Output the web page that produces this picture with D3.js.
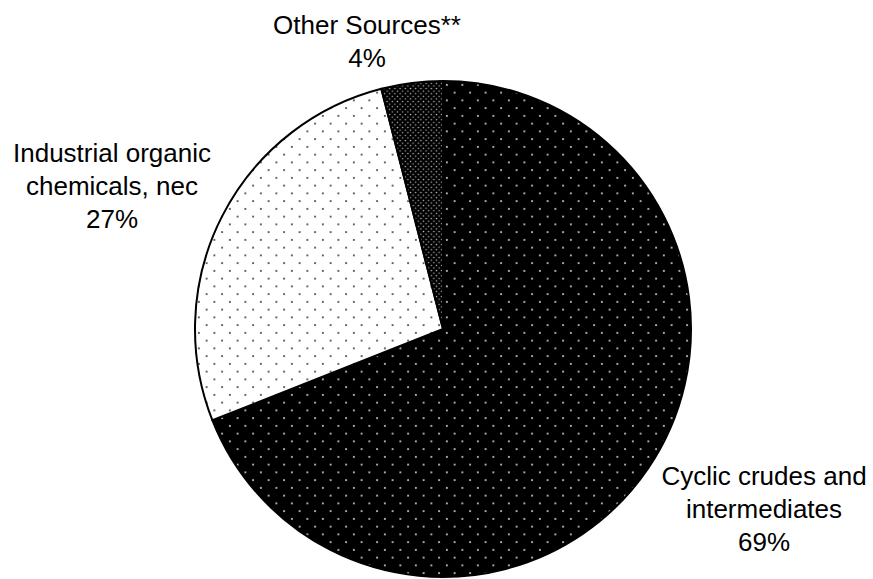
<!DOCTYPE html>
<html><head><meta charset="utf-8">
<script src="https://cdn.jsdelivr.net/npm/d3@7"></script>
<style>html,body{margin:0;padding:0;background:#fff;}svg{display:block;}</style>
</head><body>
<svg id="chart" width="873" height="579"></svg>
<script>
const categories = ["Cyclic crudes and intermediates", "Industrial organic chemicals, nec", "Other Sources**"];
const values = [69, 27, 4];
const labelLines = [["Cyclic crudes and", "intermediates", "69%"], ["Industrial organic", "chemicals, nec", "27%"], ["Other Sources**", "4%"]];

const W = 873, H = 579;
const cx = 443, cy = 329, R = 248;
const labelPos = [[764, 485], [112, 162], [367, 34]]; // first-line baseline
const lineH = 33;

const svg = d3.select("#chart");
const defs = svg.append("defs");

function dotPattern(id, size, bg, fg, r) {
  const p = defs.append("pattern").attr("id", id).attr("patternUnits", "userSpaceOnUse")
    .attr("width", size).attr("height", size);
  p.append("rect").attr("width", size).attr("height", size).attr("fill", bg);
  p.append("circle").attr("cx", size / 4).attr("cy", size / 4).attr("r", r).attr("fill", fg);
  p.append("circle").attr("cx", size * 3 / 4).attr("cy", size * 3 / 4).attr("r", r).attr("fill", fg);
}
dotPattern("pCyclic", 15.5, "#000", "#ddd", 1.0);
dotPattern("pIndustrial", 15.5, "#fff", "#333", 1.0);
dotPattern("pOther", 5.2, "#000", "#bbb", 0.75);
const fills = d3.scaleOrdinal().domain(categories).range(["url(#pCyclic)", "url(#pIndustrial)", "url(#pOther)"]);

const pie = d3.pie().sort(null).value(d => d.v);
const arc = d3.arc().innerRadius(0).outerRadius(R);
const data = categories.map((c, i) => ({ c, v: values[i] }));

const g = svg.append("g").attr("transform", `translate(${cx},${cy})`);
g.selectAll("path").data(pie(data)).join("path")
  .attr("d", arc)
  .attr("fill", d => fills(d.data.c))
  .attr("stroke", "#000")
  .attr("stroke-width", 2)
  .attr("stroke-linejoin", "round");

labelLines.forEach((lines, i) => {
  const t = svg.append("text")
    .attr("text-anchor", "middle")
    .attr("font-family", "Liberation Sans, Arial, sans-serif")
    .attr("font-size", 26)
    .attr("fill", "#000");
  lines.forEach((ln, j) => {
    t.append("tspan").attr("x", labelPos[i][0]).attr("y", labelPos[i][1] + j * lineH).text(ln);
  });
});
</script>
</body></html>
